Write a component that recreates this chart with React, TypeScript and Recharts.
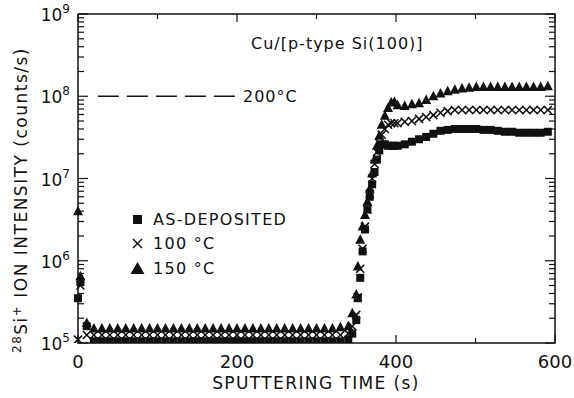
import React from 'react';
import { ScatterChart, Scatter, XAxis, YAxis, ReferenceArea, ReferenceLine } from 'recharts';

const W = 574;
const H = 398;
const M = { top: 14, right: 19, bottom: 15, left: 8 };
const Y_AXIS_W = 70;
const X_AXIS_H = 40;
const PLOT_TOP = M.top;
const PLOT_W = W - M.right - M.left - Y_AXIS_W;
const FONT = '"DejaVu Sans", sans-serif';
const INK = '#111';

// sputtering time (s)
const TIME = [
  0, 3, 11,
  20, 30, 40, 50, 60, 70, 80, 90, 100, 110, 120, 130, 140, 150, 160, 170, 180, 190, 200,
  210, 220, 230, 240, 250, 260, 270, 280, 290, 300, 310, 320, 330, 340,
  345, 350, 352, 355, 358, 361, 364, 367, 370, 373, 376, 379, 382, 386, 390, 394, 398,
  402, 411, 420, 429, 438, 447, 456, 465, 474, 483, 492, 501, 510, 519, 528, 537, 546,
  555, 564, 573, 582, 591, 600,
];

// as-deposited (squares)
const AS_DEPOSITED = [
  3.5e5, 5.5e5, 1.6e5,
  1.05e5, 1.05e5, 1.05e5, 1.05e5, 1.05e5, 1.05e5, 1.05e5, 1.05e5, 1.05e5, 1.05e5, 1.05e5,
  1.05e5, 1.05e5, 1.05e5, 1.05e5, 1.05e5, 1.05e5, 1.05e5, 1.05e5, 1.05e5, 1.05e5, 1.05e5,
  1.05e5, 1.05e5, 1.05e5, 1.05e5, 1.05e5, 1.05e5, 1.05e5, 1.05e5, 1.05e5, 1.05e5,
  1.1e5, 1.3e5, 1.9e5, 3.5e5, 6.2e5, 1.3e6, 2.4e6, 4.2e6, 6.0e6, 8.5e6, 1.2e7, 1.7e7, 2.2e7,
  2.6e7, 2.6e7, 2.5e7, 2.5e7,
  2.5e7, 2.5e7, 2.6e7, 2.8e7, 3.0e7, 3.2e7, 3.5e7, 3.8e7, 3.9e7, 4.0e7, 4.0e7, 4.0e7, 4.0e7,
  3.9e7, 3.9e7, 3.8e7, 3.7e7, 3.7e7, 3.6e7, 3.6e7, 3.6e7, 3.6e7, 3.7e7,
];

// 100 °C (crosses)
const C100 = [
  1.1e5, 5.0e5, 1.25e5,
  1.25e5, 1.25e5, 1.25e5, 1.25e5, 1.25e5, 1.25e5, 1.25e5, 1.25e5, 1.25e5, 1.25e5, 1.25e5,
  1.25e5, 1.25e5, 1.25e5, 1.25e5, 1.25e5, 1.25e5, 1.25e5, 1.25e5, 1.25e5, 1.25e5, 1.25e5,
  1.25e5, 1.25e5, 1.25e5, 1.25e5, 1.25e5, 1.25e5, 1.25e5, 1.25e5, 1.25e5, 1.25e5,
  1.3e5, 1.6e5, 2.2e5, 3.6e5, 8.0e5, 1.4e6, 2.6e6, 4.2e6, 6.5e6, 1.0e7, 1.5e7, 2.1e7, 2.7e7,
  3.4e7, 4.0e7, 4.5e7, 4.7e7,
  4.7e7, 4.7e7, 4.9e7, 5.0e7, 5.3e7, 5.6e7, 5.9e7, 6.3e7, 6.6e7, 6.8e7, 6.8e7, 6.8e7, 6.8e7,
  6.8e7, 6.8e7, 6.8e7, 6.8e7, 6.8e7, 6.8e7, 6.8e7, 6.8e7, 6.8e7, 6.8e7,
];

// 150 °C (triangles)
const C150 = [
  4.0e6, 6.5e5, 1.75e5,
  1.5e5, 1.5e5, 1.5e5, 1.5e5, 1.5e5, 1.5e5, 1.5e5, 1.5e5, 1.5e5, 1.5e5, 1.5e5,
  1.5e5, 1.5e5, 1.5e5, 1.5e5, 1.5e5, 1.5e5, 1.5e5, 1.5e5, 1.5e5, 1.5e5, 1.5e5,
  1.5e5, 1.5e5, 1.5e5, 1.5e5, 1.5e5, 1.5e5, 1.5e5, 1.5e5, 1.5e5, 1.55e5,
  1.6e5, 2.3e5, 3.9e5, 8.5e5, 1.8e6, 2.6e6, 3.6e6, 5.2e6, 7.5e6, 1.15e7, 1.7e7, 2.5e7, 3.3e7,
  4.5e7, 5.8e7, 7.2e7, 8.4e7,
  8.6e7, 7.8e7, 7.6e7, 8.0e7, 8.2e7, 9.0e7, 1.0e8, 1.08e8, 1.15e8, 1.2e8, 1.24e8, 1.27e8, 1.3e8,
  1.3e8, 1.3e8, 1.3e8, 1.3e8, 1.3e8, 1.3e8, 1.3e8, 1.3e8, 1.3e8, 1.32e8,
];

const DECADES = [1e5, 1e6, 1e7, 1e8, 1e9];
const MINOR_MULTS = [2, 3, 4, 5, 6, 7, 8, 9];
const X_TICKS = [0, 100, 200, 300, 400, 500, 600];
const X_LABELED = [0, 200, 400, 600];
const DASH_FROM = 25;
const DASH_TO = 200;
const DASH_LEVEL = 1e8;

const Y_TICKS: number[] = [];
DECADES.forEach((d, i) => {
  Y_TICKS.push(d);
  if (i < DECADES.length - 1) MINOR_MULTS.forEach(m => Y_TICKS.push(d * m));
});

const toPoints = (vals: number[]) => TIME.map((t, i) => ({ t, v: vals[i] }));

const SquareMark = ({ cx, cy }: any) => (
  <rect x={cx - 4} y={cy - 4} width={8} height={8} fill={INK} />
);
const CrossMark = ({ cx, cy }: any) => (
  <g stroke={INK} strokeWidth={1.6}>
    <line x1={cx - 4} y1={cy - 4} x2={cx + 4} y2={cy + 4} />
    <line x1={cx - 4} y1={cy + 4} x2={cx + 4} y2={cy - 4} />
  </g>
);
const TriMark = ({ cx, cy }: any) => (
  <polygon points={`${cx},${cy - 5.5} ${cx + 5},${cy + 4} ${cx - 5},${cy + 4}`} fill={INK} />
);

const YTick = ({ x, y, payload }: any) => {
  const e = Math.log10(payload.value);
  const major = Math.abs(e - Math.round(e)) < 1e-6;
  const len = major ? 10 : 6;
  return (
    <g>
      <line x1={x} y1={y} x2={x + len} y2={y} stroke={INK} strokeWidth={1.2} />
      <line x1={x + PLOT_W} y1={y} x2={x + PLOT_W - len} y2={y} stroke={INK} strokeWidth={1.2} />
      {major && (
        <text x={x - 8} y={y + 7} textAnchor="end" fontSize={17} fill={INK} fontFamily={FONT}>
          10<tspan dy={-8} fontSize={12}>{Math.round(e)}</tspan>
        </text>
      )}
    </g>
  );
};

const XTick = ({ x, y, payload }: any) => {
  const v = payload.value;
  const major = X_LABELED.includes(v);
  const len = major ? 8 : 5;
  return (
    <g>
      <line x1={x} y1={y} x2={x} y2={y - len} stroke={INK} strokeWidth={1.2} />
      <line x1={x} y1={PLOT_TOP} x2={x} y2={PLOT_TOP + len} stroke={INK} strokeWidth={1.2} />
      {major && (
        <text x={x} y={y + 25} textAnchor="middle" fontSize={18} fill={INK} fontFamily={FONT}>
          {v}
        </text>
      )}
    </g>
  );
};

const LEGEND = [
  { label: 'AS-DEPOSITED', icon: <rect x={3} y={3} width={9} height={9} fill={INK} /> },
  {
    label: '100 °C',
    icon: (
      <g stroke={INK} strokeWidth={1.5}>
        <line x1={3} y1={3} x2={12} y2={12} />
        <line x1={3} y1={12} x2={12} y2={3} />
      </g>
    ),
  },
  { label: '150 °C', icon: <polygon points="7.5,1 14.5,13 0.5,13" fill={INK} /> },
];

export default function App() {
  return (
    <div style={{ position: 'absolute', left: 0, top: 0, width: W, height: H, background: '#fff', fontFamily: FONT, color: INK }}>
      <ScatterChart width={W} height={H} margin={M}>
        <XAxis
          dataKey="t"
          type="number"
          domain={[0, 600]}
          ticks={X_TICKS}
          interval={0}
          height={X_AXIS_H}
          axisLine={false}
          tickLine={false}
          tickSize={0}
          tickMargin={0}
          tick={<XTick />}
        />
        <YAxis
          dataKey="v"
          type="number"
          scale="log"
          domain={[1e5, 1e9]}
          allowDataOverflow
          ticks={Y_TICKS}
          interval={0}
          width={Y_AXIS_W}
          axisLine={false}
          tickLine={false}
          tickSize={0}
          tickMargin={0}
          tick={<YTick />}
        />
        <ReferenceArea x1={0} x2={600} y1={1e5} y2={1e9} fill="none" stroke={INK} strokeWidth={1.5} fillOpacity={0} />
        <ReferenceLine
          segment={[{ x: DASH_FROM, y: DASH_LEVEL }, { x: DASH_TO, y: DASH_LEVEL }]}
          stroke={INK}
          strokeWidth={1.4}
          strokeDasharray="21 8"
          label={{ value: '200°C', position: 'right', offset: 6, fontSize: 16, fill: INK, fontFamily: FONT, letterSpacing: 1 } as any}
        />
        <Scatter data={toPoints(C150)} shape={<TriMark />} isAnimationActive={false} />
        <Scatter data={toPoints(C100)} shape={<CrossMark />} isAnimationActive={false} />
        <Scatter data={toPoints(AS_DEPOSITED)} shape={<SquareMark />} isAnimationActive={false} />
      </ScatterChart>

      <div style={{ position: 'absolute', left: 251, top: 34, fontSize: 16, letterSpacing: 1, whiteSpace: 'nowrap', lineHeight: '20px' }}>
        Cu/[p-type Si(100)]
      </div>

      <div style={{ position: 'absolute', left: 130, top: 207 }}>
        {LEGEND.map(item => (
          <div key={item.label} style={{ display: 'flex', alignItems: 'center', height: 24.5 }}>
            <svg width={15} height={15} style={{ marginRight: 8 }}>{item.icon}</svg>
            <span style={{ fontSize: 16, letterSpacing: 1.3, whiteSpace: 'nowrap' }}>{item.label}</span>
          </div>
        ))}
      </div>

      <div
        style={{
          position: 'absolute',
          left: 19,
          top: 200,
          transform: 'translate(-50%, -50%) rotate(-90deg)',
          whiteSpace: 'nowrap',
          fontSize: 17,
          letterSpacing: 1.5,
          lineHeight: '20px',
        }}
      >
        <span style={{ fontSize: 12, verticalAlign: '0.55em' }}>28</span>Si
        <span style={{ fontSize: 12, verticalAlign: '0.55em' }}>+</span> ION INTENSITY (counts/s)
      </div>

      <div style={{ position: 'absolute', left: 316, top: 383, transform: 'translate(-50%, -50%)', fontSize: 17, letterSpacing: 1.4, whiteSpace: 'nowrap' }}>
        SPUTTERING TIME (s)
      </div>
    </div>
  );
}
